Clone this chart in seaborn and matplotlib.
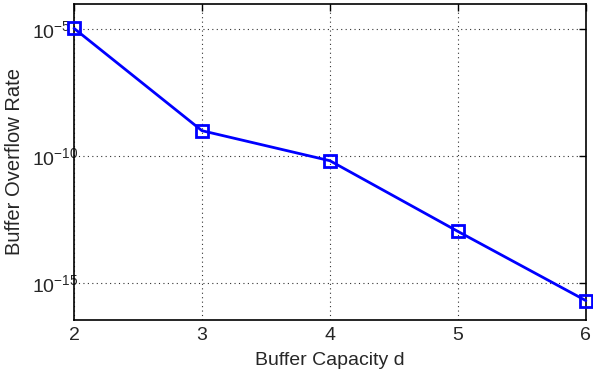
import math
import matplotlib
matplotlib.use("Agg")
import matplotlib.pyplot as plt
import matplotlib.ticker as mticker
import seaborn as sns
import pandas as pd

# Buffer overflow rate versus buffer capacity
capacity = [2, 3, 4, 5, 6]
overflow_rate = [1.05e-5, 1.0e-9, 6.6e-11, 1.1e-13, 2.1e-16]
y_ticks = [1e-15, 1e-10, 1e-5]

df = pd.DataFrame({"d": capacity, "rate": overflow_rate})

sns.set_style("white")
plt.rcParams["font.family"] = ["Liberation Sans", "DejaVu Sans"]
plt.rcParams["mathtext.fontset"] = "custom"
plt.rcParams["mathtext.rm"] = "Liberation Sans"
plt.rcParams["mathtext.it"] = "Liberation Sans:italic"

fig = plt.figure(figsize=(5.93, 3.77), dpi=100)
ax = fig.add_axes([0.1248, 0.1512, 0.8632, 0.8382])

sns.lineplot(data=df, x="d", y="rate", ax=ax, color=(0, 0, 1), linewidth=2.0,
             marker="s", markersize=8, markerfacecolor="none",
             markeredgecolor=(0, 0, 1), markeredgewidth=2.0, clip_on=False,
             zorder=5)

ax.set_yscale("log")
ax.set_xlim(2, 6)
ax.set_ylim(10 ** -16.44, 10 ** -4.02)
ax.set_xticks(capacity)
ax.yaxis.set_major_locator(mticker.FixedLocator(y_ticks))
ax.yaxis.set_minor_locator(mticker.NullLocator())
ax.yaxis.set_major_formatter(mticker.FuncFormatter(
    lambda v, p: r"$10^{%d}$" % round(math.log10(v))))

ax.grid(True, which="major", linestyle=(0, (1, 3)), color="#333333", linewidth=0.8)
ax.tick_params(axis="both", which="major", direction="in", length=5, width=1,
               labelsize=14, top=True, right=True, color="black", pad=5)
# left-aligned exponents: the "10" bases line up and exponents run toward the axis
ax.tick_params(axis="y", pad=30)
plt.setp(ax.get_yticklabels(), ha="left")
for s in ax.spines.values():
    s.set_visible(True)
    s.set_color("black")
    s.set_linewidth(1.2)

ax.set_xlabel("Buffer Capacity d", fontsize=14, labelpad=6)
ax.set_ylabel("Buffer Overflow Rate", fontsize=14.5)
ax.yaxis.set_label_coords(-0.097, 0.5)

fig.savefig("out.png", dpi=100)
